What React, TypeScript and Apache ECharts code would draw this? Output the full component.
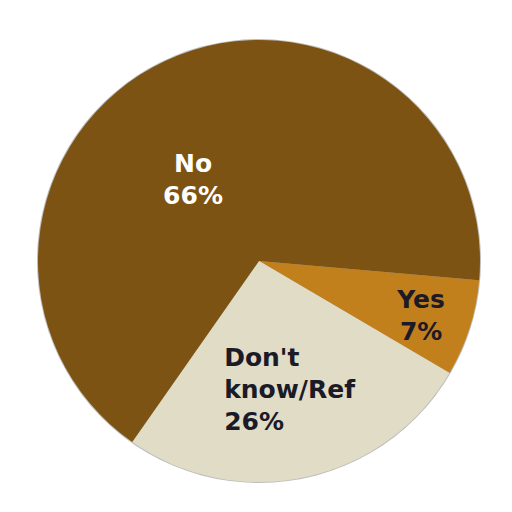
import React, { useRef, useEffect } from 'react';
import * as echarts from 'echarts';

const CATEGORIES = ['Yes', "Don't know/Ref", 'No'];
const LABEL_LINES = [['Yes'], ["Don't", 'know/Ref'], ['No']];
const VALUES = [7, 26, 66];
const COLORS = ['#c2801d', '#e0dcc6', '#7c5312'];
const TEXT_COLORS = ['#1b1a26', '#1b1a26', '#ffffff'];
// nudges from the default "inside" label spot
const LABEL_OFFSETS = [[54, 20], [17, 18], [-18, 21]];

const App: React.FC = () => {
  const chartRef = useRef<HTMLDivElement>(null);

  useEffect(() => {
    document.body.style.margin = '0';
    if (!chartRef.current) return;
    const chart = echarts.init(chartRef.current, undefined, { renderer: 'svg' });

    const font = {
      fontFamily: '"DejaVu Sans", Verdana, sans-serif',
      fontWeight: 'bold' as const,
      fontSize: 25,
      lineHeight: 32,
    };

    const data = CATEGORIES.map((name, i) => ({
      name,
      value: VALUES[i],
      itemStyle: { color: COLORS[i] },
      label: {
        offset: LABEL_OFFSETS[i],
        formatter: () => {
          const lines = [...LABEL_LINES[i], VALUES[i] + '%'];
          return lines.map((l) => `{t|${l}}`).join('\n');
        },
        rich: {
          t: {
            ...font,
            color: TEXT_COLORS[i],
            width: i === 1 ? 152 : undefined,
            align: i === 1 ? 'left' : 'center',
          },
        },
      },
    }));

    chart.setOption({
      animation: false,
      backgroundColor: '#ffffff',
      series: [
        {
          // thin grey rim
          type: 'pie',
          silent: true,
          z: 1,
          center: [259, 261],
          radius: 222,
          label: { show: false },
          labelLine: { show: false },
          data: [{ value: 1, name: 'rim', itemStyle: { color: '#bdbdbd' } }],
        },
        {
          type: 'pie',
          z: 2,
          center: [259, 261],
          radius: 221,
          startAngle: -5,
          clockwise: true,
          label: { show: true, position: 'inside' },
          labelLine: { show: false },
          itemStyle: { borderWidth: 0 },
          emphasis: { disabled: true },
          data,
        },
      ],
    });

    return () => chart.dispose();
  }, []);

  return <div ref={chartRef} style={{ width: '512px', height: '512px' }} />;
};

export default App;
